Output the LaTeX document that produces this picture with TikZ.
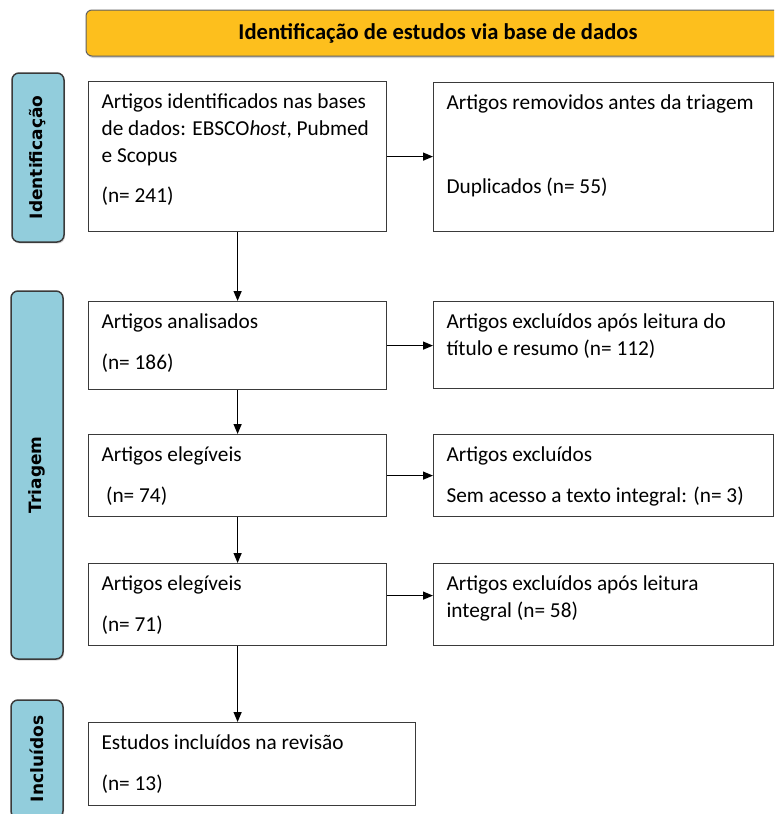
\documentclass[tikz,border=0pt]{standalone}
\usepackage{fontspec}
\setmainfont{Carlito}
\newfontfamily\sidefont{DejaVu Sans}
\usetikzlibrary{arrows.meta,shadows}
\definecolor{hdrgold}{HTML}{FDBF1D}
\definecolor{sideblue}{HTML}{92CDDC}
\definecolor{edgegray}{HTML}{3A3A3A}
\def\boxtxt#1#2#3{\parbox[c][\dimexpr#2-24pt\relax][t]{\dimexpr#1-26pt\relax}{\raggedright #3}}
\tikzset{
  stepbox/.style={draw=edgegray, line width=1.2pt, anchor=north west, inner xsep=13pt, inner ysep=12pt, font=\fontsize{21.3}{27}\selectfont},
  phase/.style={draw=edgegray, fill=sideblue, line width=1.5pt, rounded corners=7pt, minimum width=52pt, inner sep=0pt, font=\sidefont\bfseries\fontsize{17}{20}\selectfont, drop shadow={shadow xshift=1pt, shadow yshift=-1.5pt, opacity=0.3}},
  header/.style={draw=edgegray!80, fill=hdrgold, line width=1pt, rounded corners=6pt, font=\bfseries\fontsize{22.6}{26}\selectfont, drop shadow={shadow xshift=1.5pt, shadow yshift=-2pt, opacity=0.35}},
  arr/.style={line width=1.3pt, -{Triangle[length=10pt,width=8pt]}},
}

\begin{document}
\begin{tikzpicture}[x=1pt, y=-1pt]
			%%%%% FRAME %%%%%
			\useasboundingbox (0,0) rectangle (774,814);
			\clip (0,0) rectangle (774,814);
			\fill[white] (0,0) rectangle (774,814);
			
			\node[header, minimum width=704pt, minimum height=46pt] (hdr) at (438,33) {Identificação de estudos via base de dados};
			
			%%%%% PHASES %%%%%
			\node[phase, minimum height=169pt] (idt) at (38,157.5) {\rotatebox{90}{Identificação}};
			\node[phase, minimum height=368pt] (tri) at (37,475) {\rotatebox{90}{Triagem}};
			\node[phase, minimum height=118pt] (inc) at (37,759) {\rotatebox{90}{Incluídos}};
			
			%%%%% BOXES %%%%%
			\node[stepbox] (b1) at (88,81) {\boxtxt{298pt}{150pt}{Artigos identificados nas bases\\ de dados: EBSCO\textit{host}, Pubmed\\ e Scopus\\[13pt] (n= 241)}};
			\node[stepbox] (b2) at (433,82) {\boxtxt{340pt}{149pt}{Artigos removidos antes da triagem\\[57pt] Duplicados (n= 55)}};
			
			\node[stepbox] (b3) at (88,301) {\boxtxt{298pt}{88pt}{Artigos analisados\\[14pt] (n= 186)}};
			\node[stepbox] (b4) at (433,301) {\boxtxt{340pt}{87pt}{Artigos excluídos após leitura do\\ título e resumo (n= 112)}};
			
			\node[stepbox] (b5) at (88,434) {\boxtxt{298pt}{82pt}{Artigos elegíveis\\[14pt] \hspace*{4.5pt}(n= 74)}};
			\node[stepbox] (b6) at (433,434) {\boxtxt{340pt}{82pt}{Artigos excluídos\\[14pt] Sem acesso a texto integral: (n= 3)}};
			
			\node[stepbox] (b7) at (88,563) {\boxtxt{298pt}{82pt}{Artigos elegíveis\\[14pt] (n= 71)}};
			\node[stepbox] (b8) at (433,563) {\boxtxt{340pt}{82pt}{Artigos excluídos após leitura\\ integral (n= 58)}};
			
			\node[stepbox] (b9) at (88,722) {\boxtxt{327pt}{83pt}{Estudos incluídos na revisão\\[14pt] (n= 13)}};
			
			%%%%% ARROWS %%%%%
			\draw[arr] (b1.south) -- (b3.north);
			\draw[arr] (b3.south) -- (b5.north);
			\draw[arr] (b5.south) -- (b7.north);
			\draw[arr] (b7.south) -- (b7.south |- b9.north);
			
			\draw[arr] (b1.east) -- (b1.east -| b2.west);
			\draw[arr] (b3.east) -- (b3.east -| b4.west);
			\draw[arr] (b5.east) -- (b5.east -| b6.west);
			\draw[arr] ([yshift=9pt]b7.east) -- ([yshift=9pt]b7.east -| b8.west);
\end{tikzpicture}
\end{document}
